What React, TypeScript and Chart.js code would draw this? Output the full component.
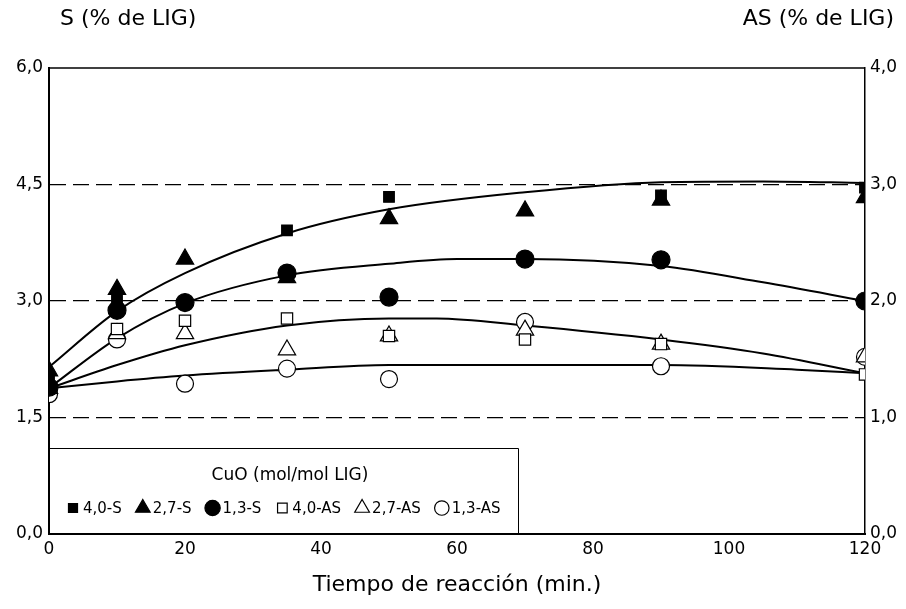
import React, { useEffect, useRef } from 'react';
import { Chart, registerables } from 'chart.js';

Chart.register(...registerables);

// ---- Data ----
const xTimes = [0, 10, 20, 35, 50, 70, 90, 120];
// S series (left axis, % de LIG)
const s40 = [2.04, 3.0, null, 3.91, 4.34, null, 4.36, 4.46];
const s27 = [2.1, 3.15, 3.54, 3.3, 4.06, 4.16, 4.3, 4.33];
const s13 = [1.89, 2.88, 2.98, 3.36, 3.05, 3.54, 3.53, 3.0];
// AS series (right axis, % de LIG)
const as40 = [1.25, 1.76, 1.83, 1.85, 1.7, 1.67, 1.63, 1.37];
const as27 = [1.25, 1.72, 1.72, 1.58, 1.7, 1.75, 1.63, 1.52];
const as13 = [1.2, 1.67, 1.29, 1.42, 1.33, 1.82, 1.44, 1.52];

// Fitted curves
const fitS1X = [0, 10, 20, 35, 50, 70, 90, 105, 120];
const fitS1Y = [2.15, 2.87, 3.36, 3.87, 4.18, 4.4, 4.53, 4.54, 4.52];
const fitS2X = [0, 10, 20, 35, 50, 60, 70, 90, 105, 120];
const fitS2Y = [1.88, 2.52, 2.97, 3.33, 3.48, 3.54, 3.54, 3.45, 3.24, 3.0];
const fitAS1X = [0, 10, 20, 35, 50, 57, 70, 90, 105, 120];
const fitAS1Y = [1.25, 1.45, 1.62, 1.79, 1.85, 1.85, 1.79, 1.67, 1.55, 1.38];
const fitAS2X = [0, 10, 20, 35, 50, 70, 90, 110, 120];
const fitAS2Y = [1.25, 1.31, 1.36, 1.41, 1.45, 1.45, 1.45, 1.41, 1.38];

const seriesLabels = ['4,0-S', '2,7-S', '1,3-S', '4,0-AS', '2,7-AS', '1,3-AS'];
const legendTitle = 'CuO (mol/mol LIG)';
const leftTitle = 'S (% de LIG)';
const rightTitle = 'AS (% de LIG)';
const xTitle = 'Tiempo de reacción (min.)';

const FONT = "'DejaVu Sans', sans-serif";

const toPts = (xs: number[], ys: (number | null)[]) =>
  xs.map((x, i) => ({ x, y: ys[i] })).filter((p) => p.y !== null) as { x: number; y: number }[];

const fmt = (v: number) => v.toFixed(1).replace('.', ',');

type Marker = { style: string; filled: boolean; r: number };
const markers: Marker[] = [
  { style: 'rect', filled: true, r: 7.5 },
  { style: 'triangle', filled: true, r: 10 },
  { style: 'circle', filled: true, r: 9 },
  { style: 'rect', filled: false, r: 8 },
  { style: 'triangle', filled: false, r: 10 },
  { style: 'circle', filled: false, r: 8.5 },
];

function drawMarker(ctx: CanvasRenderingContext2D, m: Marker, x: number, y: number, r: number) {
  ctx.save();
  ctx.beginPath();
  if (m.style === 'rect') {
    const s = Math.SQRT1_2 * r;
    ctx.rect(x - s, y - s, 2 * s, 2 * s);
  } else if (m.style === 'triangle') {
    const a = (Math.PI * 2) / 3;
    ctx.moveTo(x, y - r);
    ctx.lineTo(x + Math.sin(a) * r, y - Math.cos(a) * r);
    ctx.lineTo(x - Math.sin(a) * r, y - Math.cos(a) * r);
    ctx.closePath();
  } else {
    ctx.arc(x, y, r, 0, Math.PI * 2);
  }
  ctx.fillStyle = m.filled ? '#000' : '#fff';
  ctx.fill();
  ctx.lineWidth = 1.2;
  ctx.strokeStyle = '#000';
  ctx.stroke();
  ctx.restore();
}

const overlayPlugin = {
  id: 'overlay',
  beforeDatasetsDraw(chart: any) {
    const { ctx, chartArea } = chart;
    ctx.save();
    ctx.strokeStyle = '#000';
    ctx.lineWidth = 1.5;
    ctx.beginPath();
    ctx.moveTo(chartArea.left, chartArea.top);
    ctx.lineTo(chartArea.right, chartArea.top);
    ctx.stroke();
    ctx.restore();
  },
  afterDraw(chart: any) {
    const { ctx, chartArea } = chart;
    ctx.save();
    // axis titles on top
    ctx.fillStyle = '#000';
    ctx.font = `22px ${FONT}`;
    ctx.textBaseline = 'middle';
    ctx.textAlign = 'left';
    ctx.fillText(leftTitle, 60, 19);
    ctx.textAlign = 'right';
    ctx.fillText(rightTitle, 894, 19);

    // legend box
    const bx0 = chartArea.left + 1;
    const by0 = 448;
    const bx1 = 518;
    const by1 = chartArea.bottom - 1;
    ctx.fillStyle = '#fff';
    ctx.fillRect(bx0, by0, bx1 - bx0, by1 - by0);
    ctx.strokeStyle = '#000';
    ctx.lineWidth = 1;
    ctx.beginPath();
    ctx.moveTo(bx0, by0 + 0.5);
    ctx.lineTo(bx1 + 0.5, by0 + 0.5);
    ctx.lineTo(bx1 + 0.5, chartArea.bottom);
    ctx.stroke();

    ctx.fillStyle = '#000';
    ctx.font = `17px ${FONT}`;
    ctx.textAlign = 'center';
    ctx.fillText(legendTitle, 290, 476);

    ctx.font = `15px ${FONT}`;
    ctx.textAlign = 'left';
    let x = 73;
    const y = 508;
    seriesLabels.forEach((lab, i) => {
      const m = markers[i];
      drawMarker(ctx, m, x, y, m.r * 0.85);
      const tx = x + 10;
      ctx.fillStyle = '#000';
      ctx.fillText(lab, tx, y + 1);
      x = tx + ctx.measureText(lab).width + 21;
    });
    ctx.restore();
  },
};

export default function App() {
  const ref = useRef<HTMLCanvasElement | null>(null);
  useEffect(() => {
    if (!ref.current) return;
    const sData = [s40, s27, s13];
    const asData = [as40, as27, as13];
    const pointSets: any[] = [];
    [0, 1, 2, 3, 4, 5].forEach((i) => {
      const m = markers[i];
      const isS = i < 3;
      pointSets.push({
        label: seriesLabels[i],
        data: toPts(xTimes, isS ? sData[i] : asData[i - 3]),
        yAxisID: isS ? 'y' : 'y2',
        showLine: false,
        pointStyle: m.style,
        pointRadius: m.r,
        pointBackgroundColor: m.filled ? '#000' : '#fff',
        pointBorderColor: '#000',
        pointBorderWidth: 1.2,
        order: isS ? 0 : 1,
      });
    });
    const curve = (xs: number[], ys: number[], axis: string) => ({
      label: 'fit',
      data: toPts(xs, ys),
      yAxisID: axis,
      borderColor: '#000',
      borderWidth: 2,
      pointRadius: 0,
      cubicInterpolationMode: 'monotone',
      fill: false,
      order: 2,
    });
    const tickFont = { family: FONT, size: 17 };
    const chart = new Chart(ref.current, {
      type: 'line',
      data: {
        datasets: [
          ...pointSets,
          curve(fitS1X, fitS1Y, 'y'),
          curve(fitS2X, fitS2Y, 'y'),
          curve(fitAS1X, fitAS1Y, 'y2'),
          curve(fitAS2X, fitAS2Y, 'y2'),
        ] as any,
      },
      options: {
        animation: false,
        responsive: false,
        layout: { padding: { top: 68, left: 0, right: 0, bottom: 0 } },
        plugins: { legend: { display: false }, tooltip: { enabled: false }, title: { display: false } },
        scales: {
          x: {
            type: 'linear',
            min: 0,
            max: 120,
            ticks: { stepSize: 20, color: '#000', font: tickFont, padding: 5, maxRotation: 0 },
            grid: { display: false, drawTicks: false },
            border: { display: true, color: '#000', width: 2 },
            title: {
              display: true,
              text: xTitle,
              color: '#000',
              font: { family: FONT, size: 22 },
              padding: { top: 4, bottom: 11 },
            },
            afterFit: (s: any) => {
              s.height = 75;
            },
          },
          y: {
            type: 'linear',
            position: 'left',
            min: 0,
            max: 6,
            ticks: { stepSize: 1.5, color: '#000', font: tickFont, padding: 6, callback: (v: any) => fmt(Number(v)) },
            grid: {
              drawTicks: false,
              color: (c: any) => (c.tick && (c.tick.value === 0 || c.tick.value === 6) ? 'rgba(0,0,0,0)' : '#000'),
              lineWidth: 1.2,
            },
            border: { display: true, color: '#000', width: 2, dash: [16, 7] },
            afterFit: (s: any) => {
              s.width = 49;
            },
          },
          y2: {
            type: 'linear',
            position: 'right',
            min: 0,
            max: 4,
            ticks: { stepSize: 1, color: '#000', font: tickFont, padding: 5, callback: (v: any) => fmt(Number(v)) },
            grid: { drawOnChartArea: false, drawTicks: false },
            border: { display: true, color: '#000', width: 1.5 },
            afterFit: (s: any) => {
              s.width = 41;
            },
          },
        },
      } as any,
      plugins: [overlayPlugin],
    });
    return () => chart.destroy();
  }, []);
  return (
    <div style={{ position: 'absolute', left: 0, top: 0, width: 906, height: 609, background: '#fff' }}>
      <canvas ref={ref} width={906} height={609} style={{ width: 906, height: 609, display: 'block' }} />
    </div>
  );
}
